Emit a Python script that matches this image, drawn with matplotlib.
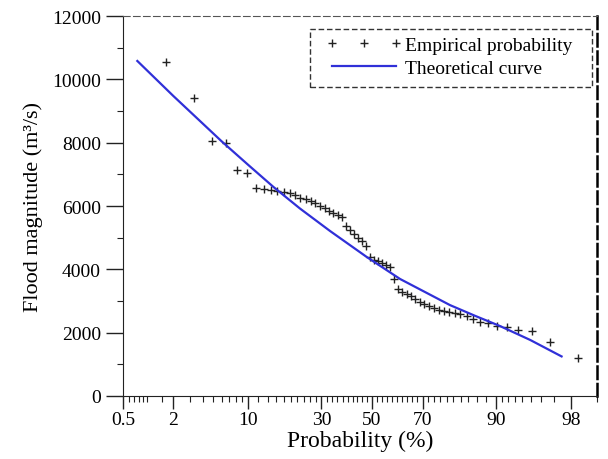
import math
import numpy as np
import matplotlib
matplotlib.use("Agg")
import matplotlib.pyplot as plt
from matplotlib.ticker import FixedLocator, FixedFormatter
from matplotlib.patches import Rectangle

# empirical points (probability %, flood magnitude m3/s)
emp_prob = [1.64, 3.28, 4.92, 6.56, 8.20, 9.84, 11.48, 13.11, 14.75, 16.39,
            18.03, 19.67, 21.31, 22.95, 24.59, 26.23, 27.87, 29.51, 31.15, 32.79,
            34.43, 36.07, 37.70, 39.34, 40.98, 42.62, 44.26, 45.90, 47.54, 49.18,
            50.82, 52.46, 54.10, 55.74, 57.38, 59.02, 60.66, 62.30, 63.93, 65.57,
            67.21, 68.85, 70.49, 72.13, 73.77, 75.41, 77.05, 78.69, 80.33, 81.97,
            83.61, 85.25, 86.89, 88.52, 90.16, 91.80, 93.44, 95.08, 96.72, 98.36]
emp_flow = [10560, 9400, 8040, 7990, 7140, 7030, 6560, 6530, 6500, 6480,
            6450, 6400, 6350, 6260, 6220, 6150, 6080, 6000, 5930, 5850,
            5780, 5720, 5650, 5370, 5250, 5130, 5000, 4880, 4750, 4380,
            4300, 4250, 4200, 4150, 4080, 3700, 3380, 3300, 3220, 3150,
            3060, 2980, 2900, 2830, 2780, 2720, 2680, 2650, 2620, 2580,
            2530, 2430, 2340, 2300, 2220, 2180, 2080, 2050, 1700, 1200]

# theoretical curve
theo_prob = [0.76, 2.0, 6.0, 10.0, 15.4, 22.8, 33.2, 47.8, 61.4, 79.0, 85.7, 90.7, 94.9, 97.5]
theo_flow = [10580, 9470, 8040, 7300, 6600, 5920, 5210, 4390, 3695, 2870, 2530, 2210, 1770, 1250]

major_ticks = [0.5, 2, 10, 30, 50, 70, 90, 98]
major_labels = ["0.5", "2", "10", "30", "50", "70", "90", "98"]
minor_ticks = [0.6, 0.7, 0.8, 0.9, 1, 1.5, 3, 4, 5, 6, 7, 8, 9] + \
    list(range(12, 30, 2)) + list(range(32, 50, 2)) + list(range(52, 70, 2)) + \
    list(range(72, 90, 2)) + [91, 92, 93, 94, 95, 96, 97, 99]


# normal probability scale (Acklam inverse normal)
A = [-3.969683028665376e+01, 2.209460984245205e+02, -2.759285104469687e+02,
     1.383577518672690e+02, -3.066479806614716e+01, 2.506628277459239e+00]
B = [-5.447609879822406e+01, 1.615858368580409e+02, -1.556989798598866e+02,
     6.680131188771972e+01, -1.328068155288572e+01]
C = [-7.784894002430293e-03, -3.223964580411365e-01, -2.400758277161838e+00,
     -2.549732539343734e+00, 4.374664141464968e+00, 2.938163982698783e+00]
D = [7.784695709041462e-03, 3.224671290700398e-01, 2.445134137142996e+00,
     3.754408661907416e+00]


def ppf_one(p):
    p = min(max(p, 1e-9), 1 - 1e-9)
    if p < 0.02425:
        q = math.sqrt(-2 * math.log(p))
        return (((((C[0]*q+C[1])*q+C[2])*q+C[3])*q+C[4])*q+C[5]) / \
            ((((D[0]*q+D[1])*q+D[2])*q+D[3])*q+1)
    if p > 1 - 0.02425:
        q = math.sqrt(-2 * math.log(1 - p))
        return -(((((C[0]*q+C[1])*q+C[2])*q+C[3])*q+C[4])*q+C[5]) / \
            ((((D[0]*q+D[1])*q+D[2])*q+D[3])*q+1)
    q = p - 0.5
    r = q * q
    return (((((A[0]*r+A[1])*r+A[2])*r+A[3])*r+A[4])*r+A[5])*q / \
        (((((B[0]*r+B[1])*r+B[2])*r+B[3])*r+B[4])*r+1)


def forward(p):
    p = np.asarray(p, dtype=float)
    return np.vectorize(ppf_one, otypes=[float])(p / 100.0)


def inverse(z):
    z = np.asarray(z, dtype=float)
    return np.vectorize(lambda v: 50.0 * (1 + math.erf(v / math.sqrt(2))),
                        otypes=[float])(z)


plt.rcParams['font.family'] = ['Liberation Serif', 'DejaVu Serif']

fig = plt.figure(figsize=(6.08, 4.6), dpi=100)
ax = fig.add_axes([123/608, 63/460, 474/608, 380/460])
ax.set_xscale('function', functions=(forward, inverse))

ax.plot(emp_prob, emp_flow, linestyle='none', marker='+', color='#222222',
        markersize=6, markeredgewidth=1.0, label='Empirical probability')
ax.plot(theo_prob, theo_flow, color='#3030d8', linewidth=1.6,
        label='Theoretical curve')

ax.set_xlim(0.5, 99)
ax.set_ylim(0, 12000)
ax.xaxis.set_major_locator(FixedLocator(major_ticks))
ax.xaxis.set_major_formatter(FixedFormatter(major_labels))
ax.xaxis.set_minor_locator(FixedLocator(minor_ticks))
ax.xaxis.set_minor_formatter(FixedFormatter([""] * len(minor_ticks)))
ax.set_yticks(range(0, 12001, 2000))
ax.set_yticks(range(1000, 12000, 2000), minor=True)

ax.tick_params(axis='both', which='both', direction='out', labelsize=14,
               top=False, right=False, color='#222222')
ax.tick_params(axis='x', which='major', length=9, width=1, pad=2)
ax.tick_params(axis='x', which='minor', length=4.5, width=0.8)
ax.tick_params(axis='y', which='major', length=12, width=1, pad=4)
ax.tick_params(axis='y', which='minor', length=4.5, width=0.8)

ax.spines['top'].set_linestyle((0, (6, 3)))
ax.spines['top'].set_color('#555555')
ax.spines['right'].set_linestyle((0, (5, 2)))
ax.spines['right'].set_linewidth(1.8)
ax.spines['left'].set_color('#222222')
ax.spines['bottom'].set_color('#222222')

ax.set_xlabel('Probability (%)', fontsize=17, labelpad=1)
ax.set_ylabel('Flood magnitude (m³/s)', fontsize=16, labelpad=6)

leg = ax.legend(loc='upper right', bbox_to_anchor=(0.947, 0.947),
                borderaxespad=0, borderpad=0, fontsize=14, numpoints=3,
                frameon=False, handlelength=3.9, handletextpad=0.15,
                labelspacing=0.29)
box = Rectangle((0.3945, 0.8132), 0.595, 0.1526, transform=ax.transAxes,
                fill=False, edgecolor='#333333', linewidth=1.0,
                linestyle=(0, (4, 2)), clip_on=False)
ax.add_patch(box)

fig.savefig('out.png', dpi=100)
